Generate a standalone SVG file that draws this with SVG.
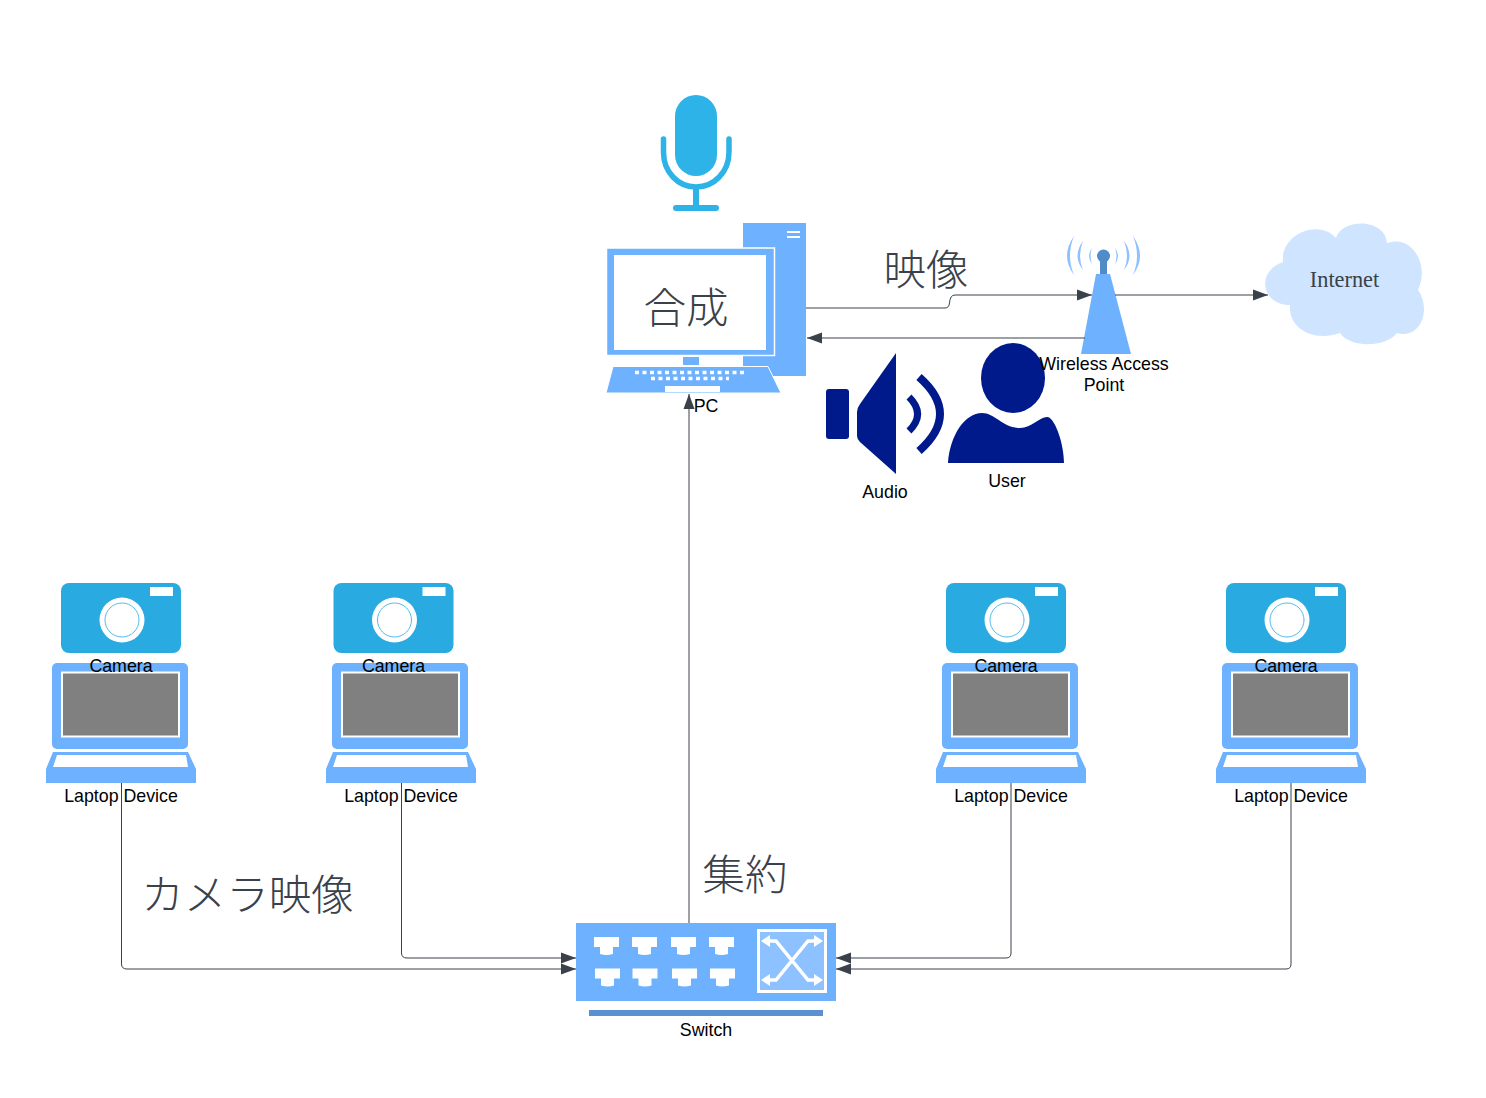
<svg xmlns="http://www.w3.org/2000/svg" width="1486" height="1098" viewBox="0 0 1486 1098">
<style>
.l{font-family:"Liberation Sans",Arial,sans-serif;font-size:17.8px;fill:#000;text-anchor:middle}
.j{font-family:"Noto Sans CJK JP","Noto Sans CJK SC",sans-serif;font-size:42.5px;font-weight:300;fill:#3a414a;text-anchor:middle}
.blue{fill:#6db1ff}
.sky{fill:#29abe2}
.navy{fill:#001a8c}
.c{fill:none;stroke:#3a414a;stroke-width:1;marker-end:url(#a)}
.w{fill:#fff}
.xa{fill:none;stroke:#fff;stroke-width:3.5}
</style>
<defs>
<marker id="a" markerUnits="userSpaceOnUse" markerWidth="16" markerHeight="12" refX="15" refY="6" orient="auto"><path d="M0,0.5L15,6L0,11.5Z" fill="#3a414a"/></marker>
<g id="cam">
<rect x="61" y="583" width="120" height="70" rx="8" class="sky"/>
<rect x="150" y="587" width="23" height="9" class="w"/>
<circle cx="122" cy="620" r="22.500" class="w"/>
<circle cx="122" cy="620" r="17" fill="#fff" stroke="#29abe2" stroke-width="0.8"/>
</g>
<g id="lap">
<rect x="52" y="663" width="136" height="86" rx="5" class="blue"/>
<rect x="62" y="672.500" width="117" height="64" fill="#808080" stroke="#fff" stroke-width="2"/>
<path d="M53,752H188L196,769V783H46V769Z" class="blue"/>
<path d="M57,755H186L188,767H53Z" class="w"/>
</g>
<g id="port"><path d="M0,0H25V10H19V17Q12.500,19 6,17V10H0Z" class="w"/></g>
</defs>
<rect width="1486" height="1098" fill="#fff"/>

<g id="mic">
<rect x="675" y="95" width="42" height="81" rx="21" fill="#2db3e8"/>
<path d="M663.500,139V152C663.500,172 678,187 696,187C714,187 729,172 729,152V139" fill="none" stroke="#2db3e8" stroke-width="5.500" stroke-linecap="round"/>
<rect x="693" y="186" width="6" height="20" fill="#2db3e8"/>
<rect x="673" y="205" width="46" height="6" rx="3" fill="#2db3e8"/>
</g>

<g id="pc">
<rect x="743" y="223" width="63" height="153" class="blue"/>
<rect x="787" y="231" width="13" height="2" class="w"/>
<rect x="787" y="236" width="13" height="2" class="w"/>
<rect x="606.500" y="248" width="168" height="107.500" class="blue" stroke="#fff" stroke-width="1.500"/>
<rect x="614" y="255" width="152" height="95" fill="#fff"/>
<rect x="683" y="357" width="16" height="8" class="blue"/>
<path d="M613,366.500H768L781,393H606Z" class="blue" stroke="#fff" stroke-width="1"/>
<path d="M635,372.500H744M651,378.500H729" fill="none" stroke="#fff" stroke-width="3.500" stroke-dasharray="4 3.500"/>
<rect x="665" y="386" width="55" height="6" class="w"/>
<text class="j" x="686" y="323">合成</text>
<text class="l" x="706" y="411.500">PC</text>
</g>

<g id="audio">
<rect x="826" y="389" width="23" height="50" rx="3" class="navy"/>
<path d="M857,412Q857,408 860,404L896,353V474L860,442Q857,439 857,436Z" class="navy"/>
<path d="M909,397Q926,414 909,431" fill="none" stroke="#001a8c" stroke-width="7"/>
<path d="M919,377Q961,414 919,451" fill="none" stroke="#001a8c" stroke-width="8"/>
<text class="l" x="885" y="497.500">Audio</text>
</g>

<g id="user">
<path d="M948,463C950,435 965,413 982,413C995,413 1003,428 1020,428C1032,428 1040,416 1048,417C1056,420 1064,445 1064,463Z" class="navy"/>
<ellipse cx="1013" cy="378" rx="32" ry="35" class="navy"/>
<text class="l" x="1007" y="486.500">User</text>
</g>

<g id="ap">
<path d="M1096,274H1110L1131,354H1081Z" class="blue"/>
<rect x="1100" y="261" width="7" height="13" fill="#4f8cc9"/>
<circle cx="1103.500" cy="256" r="6.500" fill="#4f8cc9"/>
<path d="M1092,248Q1086,256 1092,264Q1089,256 1092,248ZM1115,248Q1121,256 1115,264Q1118,256 1115,248ZM1083,241Q1072,256 1083,270Q1077,256 1083,241ZM1124,241Q1135,256 1124,270Q1130,256 1124,241ZM1074,236Q1060,256 1074,275Q1066,256 1074,236ZM1133,236Q1147,256 1133,275Q1141,256 1133,236Z" fill="#8ec1ff"/>
<text class="l" x="1104" y="369.500">Wireless Access</text>
<text class="l" x="1104" y="390.500">Point</text>
</g>

<g id="internet">
<path d="M1283,262C1280,235 1318,218 1336,238C1342,218 1385,218 1387,243C1412,234 1430,265 1418,290C1432,310 1420,340 1397,333C1385,348 1350,348 1340,333C1315,342 1288,330 1290,305C1262,305 1255,272 1283,262Z" fill="#cfe4ff"/>
<text x="1344.500" y="287" font-family="Liberation Serif,serif" font-size="22.3px" fill="#3a414a" text-anchor="middle">Internet</text>
</g>

<g id="laptop1"><use href="#lap"/><text class="l" x="121" y="801.500">Laptop Device</text></g>
<g id="laptop2"><use href="#lap" x="280"/><text class="l" x="401" y="801.500">Laptop Device</text></g>
<g id="laptop3"><use href="#lap" x="890"/><text class="l" x="1011" y="801.500">Laptop Device</text></g>
<g id="laptop4"><use href="#lap" x="1170"/><text class="l" x="1291" y="801.500">Laptop Device</text></g>

<g id="camera1"><use href="#cam"/><text class="l" x="121" y="671.500">Camera</text></g>
<g id="camera2"><use href="#cam" x="272.500"/><text class="l" x="393.500" y="671.500">Camera</text></g>
<g id="camera3"><use href="#cam" x="885"/><text class="l" x="1006" y="671.500">Camera</text></g>
<g id="camera4"><use href="#cam" x="1165"/><text class="l" x="1286" y="671.500">Camera</text></g>

<g id="switch">
<rect x="576" y="923" width="260" height="78" class="blue"/>
<rect x="589" y="1010" width="234" height="6" fill="#5a91d0"/>
<use href="#port" x="594" y="937"/><use href="#port" x="632" y="937"/><use href="#port" x="671" y="937"/><use href="#port" x="709" y="937"/>
<use href="#port" x="595" y="968.500"/><use href="#port" x="632.500" y="968.500"/><use href="#port" x="672" y="968.500"/><use href="#port" x="710" y="968.500"/>
<rect x="758.500" y="930.500" width="67" height="61" fill="#8ec1ff" stroke="#fff" stroke-width="3"/>
<path d="M766,941H776L808,980H818M818,941H808L776,980H766" class="xa"/>
<path d="M761,941L770,935V947ZM823,941L814,935V947ZM761,980L770,974V986ZM823,980L814,974V986Z" class="w"/>
<text class="l" x="706" y="1035.500">Switch</text>
</g>

<g id="connectors">
<path class="c" d="M806,308H945Q949,308 949.500,303Q950,295 955,295H1092"/>
<path class="c" d="M1085,338H807"/>
<path class="c" d="M1115,295H1268"/>
<path class="c" d="M689,923V394"/>
<path class="c" d="M121.500,783V964Q121.500,969 127,969H576"/>
<path class="c" d="M401.500,783V953Q401.500,958 407,958H576"/>
<path class="c" d="M1011,783V953Q1011,958 1006,958H836"/>
<path class="c" d="M1291,783V964Q1291,969 1286,969H836"/>
</g>

<g id="labels">
<text class="j" x="926" y="285">映像</text>
<text class="j" x="745" y="890">集約</text>
<text class="j" x="247.500" y="910">カメラ映像</text>
</g>
</svg>
